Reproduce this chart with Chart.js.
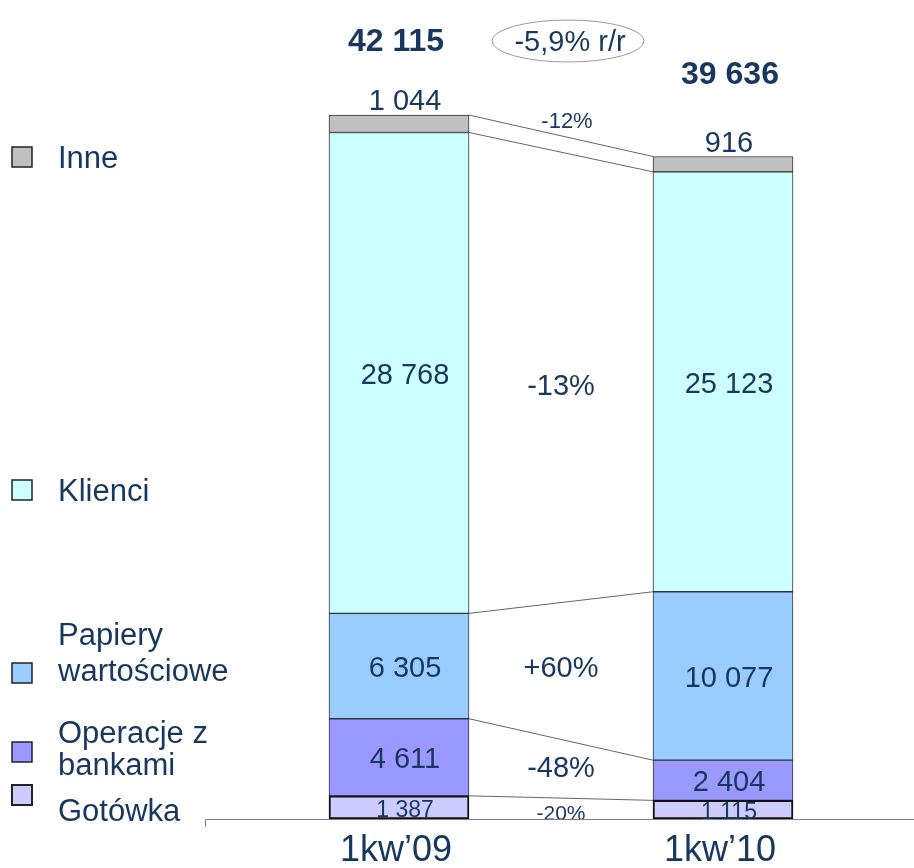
<!DOCTYPE html>
<html lang="pl">
<head>
<meta charset="utf-8">
<script src="https://cdn.jsdelivr.net/npm/chart.js@4.4.1/dist/chart.umd.min.js"></script>
<style>
  body { margin: 0; background: #fff; }
  #wrap { width: 914px; height: 868px; }
</style>
</head>
<body>
<div id="wrap"><canvas id="assetsChart" width="914" height="868"></canvas></div>
<script>
// data, bottom of the stack first
const periods = ['1kw\u201909', '1kw\u201910'];
const gotowka = [1387, 1115];
const operacje = [4611, 2404];
const papiery = [6305, 10077];
const klienci = [28768, 25123];
const inne = [1044, 916];
const totals = [42115, 39636];
const changes = ['-20%', '-48%', '+60%', '-13%', '-12%'];
const yoyChange = '-5,9% r/r';
const legendLines = [['Gotówka'], ['Operacje z', 'bankami'], ['Papiery', 'wartościowe'], ['Klienci'], ['Inne']];

const navy = '#17375E';
const fontFamily = '"Liberation Sans", Arial, sans-serif';

function fmt(v) {
    return String(v).replace(/\B(?=(\d{3})+(?!\d))/g, ' ');
}

const overlay = {
    id: 'overlay',
    afterDatasetsDraw(chart) {
        const ctx = chart.ctx;
        const n = chart.data.datasets.length;
        ctx.save();

        // connector lines between the bars
        ctx.strokeStyle = '#666';
        ctx.lineWidth = 1;
        for (let i = 0; i < n; i++) {
            const bars = chart.getDatasetMeta(i).data;
            const a = bars[0], b = bars[1];
            ctx.beginPath();
            ctx.moveTo(a.x + a.width / 2, a.y);
            ctx.lineTo(b.x - b.width / 2, b.y);
            ctx.stroke();
        }

        ctx.fillStyle = navy;
        ctx.textAlign = 'center';
        ctx.textBaseline = 'middle';

        // segment values
        for (let i = 0; i < n; i++) {
            const ds = chart.data.datasets[i];
            chart.getDatasetMeta(i).data.forEach((el, j) => {
                let y = (el.y + el.base) / 2 + 3;
                let size = 29;
                if (i === 0) { size = 23; y += 0; }
                if (i === n - 1) y = el.y - 13;
                ctx.font = size + 'px ' + fontFamily;
                ctx.fillText(fmt(ds.data[j]), el.x + 6, y);
            });
        }

        // change labels in the gap
        for (let i = 0; i < n; i++) {
            const bars = chart.getDatasetMeta(i).data;
            const a = bars[0], b = bars[1];
            const x = ((a.x + a.width / 2) + (b.x - b.width / 2)) / 2;
            let y = ((a.y + a.base) / 2 + (b.y + b.base) / 2) / 2 + 2;
            let size = 29;
            if (i === 0) { size = 21; y += 4; }
            if (i === 3) y += 8;
            if (i === 1) y -= 2;
            if (i === 2) y -= 4;
            if (i === n - 1) { size = 22; y = (a.y + b.y) / 2 - 14; }
            ctx.font = size + 'px ' + fontFamily;
            ctx.fillText(changes[i], x + (i === n - 1 ? 6 : 0), y);
        }

        // totals above the bars
        const top = chart.getDatasetMeta(n - 1).data;
        const totalOffsets = [[-3, 73], [7, 81]];
        ctx.font = 'bold 32px ' + fontFamily;
        top.forEach((el, j) => {
            ctx.fillText(fmt(totals[j]), el.x + totalOffsets[j][0], el.y - totalOffsets[j][1]);
        });

        // year-on-year ellipse
        ctx.strokeStyle = '#999';
        ctx.beginPath();
        ctx.ellipse(568, 41, 76, 21, 0, 0, Math.PI * 2);
        ctx.stroke();
        ctx.font = '29px ' + fontFamily;
        ctx.fillText(yoyChange, 570, 43);

        // axis line
        const base = chart.scales.y.getPixelForValue(0);
        ctx.strokeStyle = '#808080';
        ctx.beginPath();
        ctx.moveTo(205.5, base + 8);
        ctx.lineTo(205.5, base + 0.5);
        ctx.lineTo(914, base + 0.5);
        ctx.stroke();

        // category labels
        ctx.font = '36px ' + fontFamily;
        periods.forEach((p, j) => {
            ctx.fillText(p, chart.scales.x.getPixelForValue(j) - 3, base + 32);
        });

        // legend on the left
        const legendY = [795, 752, 673, 490, 157];
        const textY = [[812], [734, 766], [636, 672], [492], [159]];
        ctx.textAlign = 'left';
        ctx.font = '31px ' + fontFamily;
        for (let i = 0; i < n; i++) {
            const ds = chart.data.datasets[i];
            ctx.fillStyle = ds.backgroundColor;
            ctx.fillRect(12, legendY[i] - 10, 20, 20);
            ctx.strokeStyle = '#222';
            ctx.lineWidth = i === 0 ? 2 : 1.5;
            ctx.strokeRect(12, legendY[i] - 10, 20, 20);
            ctx.fillStyle = navy;
            legendLines[i].forEach((line, k) => {
                ctx.fillText(line, 58, textY[i][k]);
            });
        }
        ctx.restore();
    }
};

const ctx = document.getElementById('assetsChart').getContext('2d');
const assetsChart = new Chart(ctx, {
    type: 'bar',
    data: {
        labels: periods,
        datasets: [
            { label: 'Gotówka', data: gotowka, backgroundColor: '#CCCCFF', borderColor: '#111', borderWidth: 2 },
            { label: 'Operacje z bankami', data: operacje, backgroundColor: '#9999FF', borderColor: '#333', borderWidth: 1 },
            { label: 'Papiery wartościowe', data: papiery, backgroundColor: '#99CCFF', borderColor: '#333', borderWidth: 1 },
            { label: 'Klienci', data: klienci, backgroundColor: '#CCFFFF', borderColor: '#333', borderWidth: 1 },
            { label: 'Inne', data: inne, backgroundColor: '#C0C0C0', borderColor: '#333', borderWidth: 1 }
        ]
    },
    options: {
        responsive: false,
        animation: false,
        layout: { padding: { left: 237, right: 29, top: 0, bottom: 49 } },
        datasets: { bar: { barThickness: 140, borderSkipped: false } },
        scales: {
            x: { stacked: true, display: false },
            y: { stacked: true, display: false, min: 0, max: 49000 }
        },
        plugins: {
            legend: { display: false },
            tooltip: { enabled: false }
        }
    },
    plugins: [overlay]
});
</script>
</body>
</html>
